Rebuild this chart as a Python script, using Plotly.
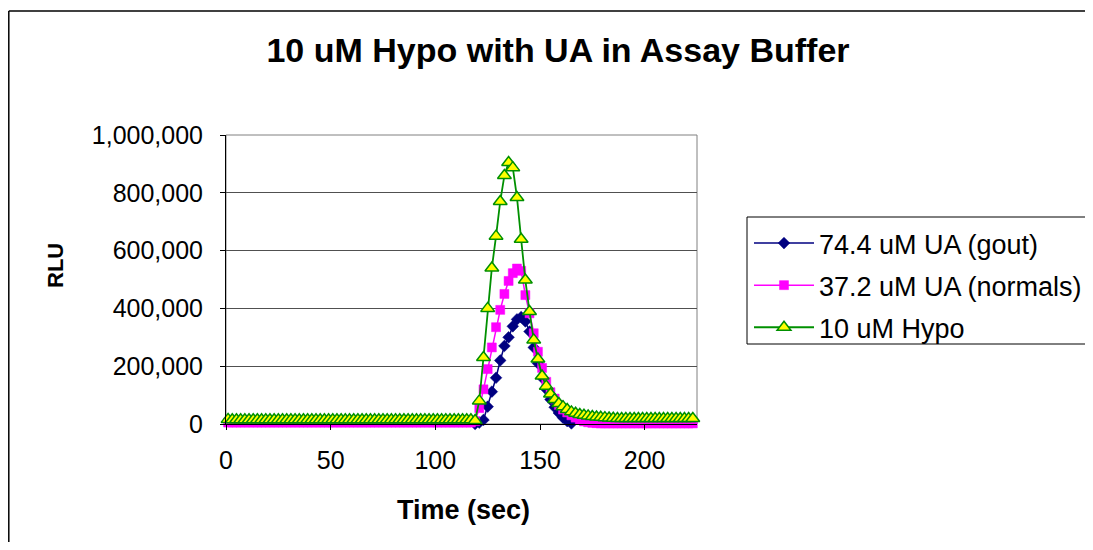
import plotly.graph_objects as go

# ---- data ----
time_sec = [1, 3, 5, 7, 9, 11, 13, 15, 17, 19, 21, 23, 25, 27, 29, 31, 33, 35, 37, 39,
            41, 43, 45, 47, 49, 51, 53, 55, 57, 59, 61, 63, 65, 67, 69, 71, 73, 75, 77, 79,
            81, 83, 85, 87, 89, 91, 93, 95, 97, 99, 101, 103, 105, 107, 109, 111, 113, 115, 117, 119,
            121, 123, 125, 127, 129, 131, 133, 135, 137, 139, 141, 143, 145, 147, 149, 151, 153, 155, 157, 159,
            161, 163, 165, 167, 169, 171, 173, 175, 177, 179, 181, 183, 185, 187, 189, 191, 193, 195, 197, 199,
            201, 203, 205, 207, 209, 211, 213, 215, 217, 219, 221, 223]

gout_74_4 = [-5000, -5000, -5000, -5000, -5000, -5000, -5000, -5000, -5000, -5000,
             -5000, -5000, -5000, -5000, -5000, -5000, -5000, -5000, -5000, -5000,
             -5000, -5000, -5000, -5000, -5000, -5000, -5000, -5000, -5000, -5000,
             -5000, -5000, -5000, -5000, -5000, -5000, -5000, -5000, -5000, -5000,
             -5000, -5000, -5000, -5000, -5000, -5000, -5000, -5000, -5000, -5000,
             -5000, -5000, -5000, -5000, -5000, -5000, -5000, -5000, -5000, 0,
             5000, 14000, 60000, 112000, 160000, 220000, 270000, 300000, 338000, 362000,
             370000, 355000, 320000, 265000, 210000, 160000, 120000, 85000, 58000, 38000,
             22000, 10000, 2000, -5000, -12000, -15000, -15000, -15000, -15000, -15000,
             -15000, -15000, -15000, -15000, -15000, -15000, -15000, -15000, -15000, -15000,
             -15000, -15000, -15000, -15000, -15000, -15000, -15000, -15000, -15000, -15000,
             -15000, -15000]

normals_37_2 = [5000, 5000, 5000, 5000, 5000, 5000, 5000, 5000, 5000, 5000,
                5000, 5000, 5000, 5000, 5000, 5000, 5000, 5000, 5000, 5000,
                5000, 5000, 5000, 5000, 5000, 5000, 5000, 5000, 5000, 5000,
                5000, 5000, 5000, 5000, 5000, 5000, 5000, 5000, 5000, 5000,
                5000, 5000, 5000, 5000, 5000, 5000, 5000, 5000, 5000, 5000,
                5000, 5000, 5000, 5000, 5000, 5000, 5000, 5000, 5000, 10000,
                55000, 120000, 190000, 265000, 335000, 395000, 450000, 495000, 522000, 538000,
                530000, 446000, 383000, 314000, 250000, 194000, 146000, 110000, 88000, 66000,
                50000, 40000, 30000, 22000, 15000, 9000, 6000, 4000, 3000, 2000,
                2000, 2000, 2000, 2000, 2000, 2000, 2000, 2000, 2000, 2000,
                2000, 2000, 2000, 2000, 2000, 2000, 2000, 2000, 2000, 2000,
                2000, 2000]

hypo_10 = [16000, 15000, 15000, 15000, 15000, 15000, 15000, 15000, 15000, 15000,
           15000, 15000, 15000, 15000, 15000, 15000, 15000, 15000, 15000, 15000,
           15000, 15000, 15000, 15000, 15000, 15000, 15000, 15000, 15000, 15000,
           15000, 15000, 15000, 15000, 15000, 15000, 15000, 15000, 15000, 15000,
           15000, 15000, 15000, 15000, 15000, 15000, 15000, 15000, 15000, 15000,
           15000, 15000, 15000, 15000, 15000, 15000, 15000, 15000, 15000, 12000,
           80000, 230000, 400000, 540000, 650000, 770000, 860000, 905000, 887000, 784000,
           639000, 498000, 389000, 291000, 225000, 166000, 131000, 104000, 85000, 71000,
           60000, 50000, 42000, 37000, 33000, 30000, 28000, 26000, 24000, 23000,
           22000, 21000, 20000, 19000, 19000, 19000, 19000, 19000, 19000, 19000,
           19000, 19000, 19000, 19000, 19000, 19000, 19000, 19000, 19000, 19000,
           19000, 19000]

series_names = ["74.4 uM UA (gout)", "37.2 uM UA (normals)", "10 uM Hypo"]
y_ticks = [0, 200000, 400000, 600000, 800000, 1000000]
x_ticks = [0, 50, 100, 150, 200]

FONT = "Liberation Sans, Arial, sans-serif"

# page offset of the figure inside the browser (body margin); keep the
# figure inside the window so no scrollbars appear
OFF = 8
W, H = 1093 - 2 * OFF, 550 - 2 * OFF
# plot-area geometry in figure pixels
L, R, T, B = 226 - OFF, 697 - OFF, 135 - OFF, 424 - OFF
pw, ph = R - L, B - T


def px(x):
    return (x - OFF - L) / pw


def py(y):
    return (B - (y - OFF)) / ph


fig = go.Figure()

fig.add_trace(go.Scatter(
    x=time_sec, y=gout_74_4, name=series_names[0], mode="lines+markers",
    legendgroup="a",
    line=dict(color="#000080", width=1.5),
    marker=dict(symbol="diamond", size=9, color="#000080",
                line=dict(color="#000080", width=0.5)),
    cliponaxis=False,
))
fig.add_trace(go.Scatter(
    x=time_sec, y=normals_37_2, name=series_names[1], mode="lines+markers",
    legendgroup="b",
    line=dict(color="#FF00FF", width=1.5),
    marker=dict(symbol="square", size=9, color="#FF00FF",
                line=dict(color="#FF00FF", width=0.5)),
    cliponaxis=False,
))
fig.add_trace(go.Scatter(
    x=time_sec, y=hypo_10, name=series_names[2], mode="lines+markers",
    legendgroup="c",
    line=dict(color="#009000", width=1.8),
    marker=dict(symbol="triangle-up", size=12, color="#FFFF00",
                line=dict(color="#009000", width=1.5)),
    cliponaxis=False,
))

fig.update_layout(
    width=W, height=H,
    margin=dict(l=L, r=W - R, t=T, b=H - B, autoexpand=False),
    paper_bgcolor="white", plot_bgcolor="white",
    font=dict(family=FONT, color="black", size=25),
    title=dict(text="<b>10 uM Hypo with UA in Assay Buffer</b>",
               x=(558 - OFF) / W, y=1 - (50 - OFF) / H, xref="container", yref="container",
               xanchor="center", yanchor="middle",
               font=dict(family=FONT, size=34, color="black")),
    xaxis=dict(range=[0, 225], tickvals=x_ticks, showgrid=False, zeroline=False,
               showline=True, linecolor="black", linewidth=1,
               ticks="outside", ticklen=5, tickcolor="black",
               tickfont=dict(size=25), ticklabelstandoff=9),
    yaxis=dict(range=[0, 1000000], tickvals=y_ticks, tickformat=",d",
               showgrid=True, gridcolor="#505050", gridwidth=1, zeroline=False,
               showline=True, linecolor="black", linewidth=1,
               ticks="outside", ticklen=5, tickcolor="black",
               tickfont=dict(size=25), ticklabelstandoff=12),
    legend=dict(x=px(749), y=py(219), xanchor="left", yanchor="top",
                bgcolor="rgba(0,0,0,0)", borderwidth=0,
                font=dict(size=27, family=FONT), itemwidth=60,
                tracegroupgap=4),
    showlegend=True,
)

# plot area border (gray)
fig.add_shape(type="rect", xref="paper", yref="paper", x0=0, y0=0, x1=1, y1=1,
              line=dict(color="#808080", width=1), layer="below")

# legend box: open on the right (runs off the page)
x_lg0, x_far = px(747), px(1300)
y_lg_top, y_lg_bot = py(217), py(344)
for (xa, ya, xb, yb) in [(x_lg0, y_lg_top, x_far, y_lg_top),
                         (x_lg0, y_lg_bot, x_far, y_lg_bot),
                         (x_lg0, y_lg_bot, x_lg0, y_lg_top)]:
    fig.add_shape(type="line", xref="paper", yref="paper", x0=xa, y0=ya, x1=xb, y1=yb,
                  line=dict(color="black", width=1))

# outer chart border: top and left edges only visible
x_out0 = (0.8 - L) / pw
y_out_top, y_out_bot = py(11), py(700)
fig.add_shape(type="line", xref="paper", yref="paper",
              x0=x_out0, y0=y_out_top, x1=x_far, y1=y_out_top,
              line=dict(color="black", width=1.5))
fig.add_shape(type="line", xref="paper", yref="paper",
              x0=x_out0, y0=y_out_bot, x1=x_out0, y1=y_out_top,
              line=dict(color="black", width=1.5))

# axis titles
fig.add_annotation(text="<b>Time (sec)</b>", xref="paper", yref="paper",
                   x=px(463), y=py(510), showarrow=False,
                   font=dict(size=27, family=FONT), xanchor="center", yanchor="middle")
fig.add_annotation(text="<b>RLU</b>", xref="paper", yref="paper",
                   x=px(55), y=py(266), showarrow=False, textangle=-90,
                   font=dict(size=22, family=FONT), xanchor="center", yanchor="middle")

fig.write_html("out.html")
